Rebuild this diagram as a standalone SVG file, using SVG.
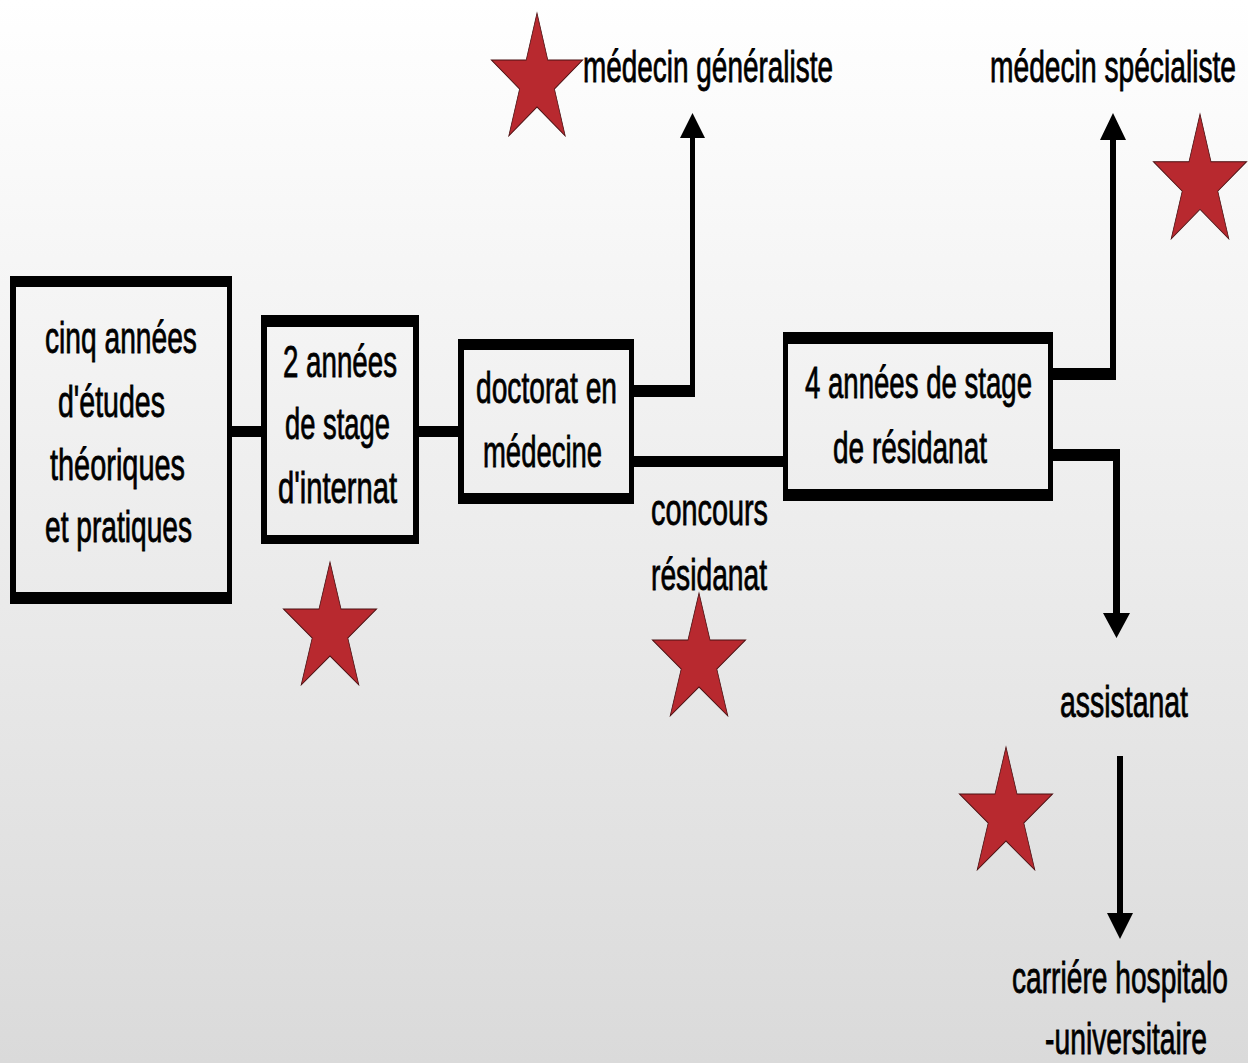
<svg xmlns="http://www.w3.org/2000/svg" xmlns:xlink="http://www.w3.org/1999/xlink" width="1248" height="1063" viewBox="0 0 1248 1063">
<defs>
<linearGradient id="bg" x1="0" y1="0" x2="0" y2="1">
<stop offset="0" stop-color="#ffffff"/>
<stop offset="1" stop-color="#dadada"/>
</linearGradient>
<path id="star" d="M0,-100 L22.45,-30.9 L95.1,-30.9 L36.3,11.8 L58.8,80.9 L0,38.2 L-58.8,80.9 L-36.3,11.8 L-95.1,-30.9 L-22.45,-30.9 Z"/>
<style>
.box{fill:#000;fill-rule:evenodd}
.con{fill:#000}
.t{font-family:"Liberation Sans",Arial,sans-serif;font-size:44px;fill:#000;stroke:#000;stroke-width:0.8}
.st{fill:#b8292f;stroke:#4a1012;stroke-width:1.5;vector-effect:non-scaling-stroke}
</style>
</defs>
<rect width="1248" height="1063" fill="url(#bg)"/>

<g id="connectors">
<path class="con" d="M232,426 H261 V437 H232 Z"/>
<path class="con" d="M419,426 H458 V437 H419 Z"/>
<path class="con" d="M634,385 H690 V138 H680 L692.5,113 L705,138 H695 V397 H634 Z"/>
<path class="con" d="M634,456 H783 V467 H634 Z"/>
<path class="con" d="M1053,368 H1110 V140 H1100 L1113,113 L1126,140 H1116 V380 H1053 Z"/>
<path class="con" d="M1053,449 H1120 V613 H1130 L1116.5,638 L1103,613 H1113 V461 H1053 Z"/>
<path class="con" d="M1117,756 H1123 V913 H1133 L1120,939 L1107,913 H1117 Z"/>
</g>

<g id="node-etudes">
<path class="box" d="M10,276 H232 V604 H10 Z M16,287 V592 H227 V287 Z"/>
<text class="t" transform="translate(45,353) scale(0.65,1)" textLength="233.8" lengthAdjust="spacingAndGlyphs">cinq années</text>
<text class="t" transform="translate(58,417) scale(0.65,1)" textLength="164.6" lengthAdjust="spacingAndGlyphs">d'études</text>
<text class="t" transform="translate(50,480) scale(0.65,1)" textLength="207.7" lengthAdjust="spacingAndGlyphs">théoriques</text>
<text class="t" transform="translate(45,542) scale(0.65,1)" textLength="226.2" lengthAdjust="spacingAndGlyphs">et pratiques</text>
</g>

<g id="node-internat">
<path class="box" d="M261,315 H419 V544 H261 Z M267,327 V535 H413 V327 Z"/>
<text class="t" transform="translate(283,377) scale(0.65,1)" textLength="175.4" lengthAdjust="spacingAndGlyphs">2 années</text>
<text class="t" transform="translate(285,439) scale(0.65,1)" textLength="161.5" lengthAdjust="spacingAndGlyphs">de stage</text>
<text class="t" transform="translate(278,503) scale(0.65,1)" textLength="183.1" lengthAdjust="spacingAndGlyphs">d'internat</text>
</g>

<g id="node-doctorat">
<path class="box" d="M458,339 H634 V504 H458 Z M464,350 V493 H629 V350 Z"/>
<text class="t" transform="translate(476,403) scale(0.65,1)" textLength="216.9" lengthAdjust="spacingAndGlyphs">doctorat en</text>
<text class="t" transform="translate(483,467) scale(0.65,1)" textLength="183.1" lengthAdjust="spacingAndGlyphs">médecine</text>
</g>

<g id="node-residanat">
<path class="box" d="M783,332 H1053 V501 H783 Z M788,344 V489 H1048 V344 Z"/>
<text class="t" transform="translate(805,398) scale(0.65,1)" textLength="349.2" lengthAdjust="spacingAndGlyphs">4 années de stage</text>
<text class="t" transform="translate(833,463) scale(0.65,1)" textLength="236.9" lengthAdjust="spacingAndGlyphs">de résidanat</text>
</g>

<g id="node-concours">
<text class="t" transform="translate(651,525) scale(0.65,1)" textLength="180" lengthAdjust="spacingAndGlyphs">concours</text>
<text class="t" transform="translate(651,590) scale(0.65,1)" textLength="178.5" lengthAdjust="spacingAndGlyphs">résidanat</text>
</g>

<g id="node-generaliste">
<text class="t" transform="translate(583,82) scale(0.65,1)" textLength="384.6" lengthAdjust="spacingAndGlyphs">médecin généraliste</text>
</g>

<g id="node-specialiste">
<text class="t" transform="translate(990,82) scale(0.65,1)" textLength="378.5" lengthAdjust="spacingAndGlyphs">médecin spécialiste</text>
</g>

<g id="node-assistanat">
<text class="t" transform="translate(1060,717) scale(0.65,1)" textLength="196.9" lengthAdjust="spacingAndGlyphs">assistanat</text>
</g>

<g id="node-carriere">
<text class="t" transform="translate(1012,993) scale(0.65,1)" textLength="332.3" lengthAdjust="spacingAndGlyphs">carriére hospitalo</text>
<text class="t" transform="translate(1045,1053.5) scale(0.65,1)" textLength="249.2" lengthAdjust="spacingAndGlyphs">-universitaire</text>
</g>

<g id="stars">
<use xlink:href="#star" class="st" transform="translate(537,81) scale(0.48,0.68)"/>
<use xlink:href="#star" class="st" transform="translate(330,630) scale(0.49,0.68)"/>
<use xlink:href="#star" class="st" transform="translate(699,661) scale(0.49,0.68)"/>
<use xlink:href="#star" class="st" transform="translate(1200,183) scale(0.49,0.69)"/>
<use xlink:href="#star" class="st" transform="translate(1006,815) scale(0.49,0.68)"/>
</g>
</svg>
